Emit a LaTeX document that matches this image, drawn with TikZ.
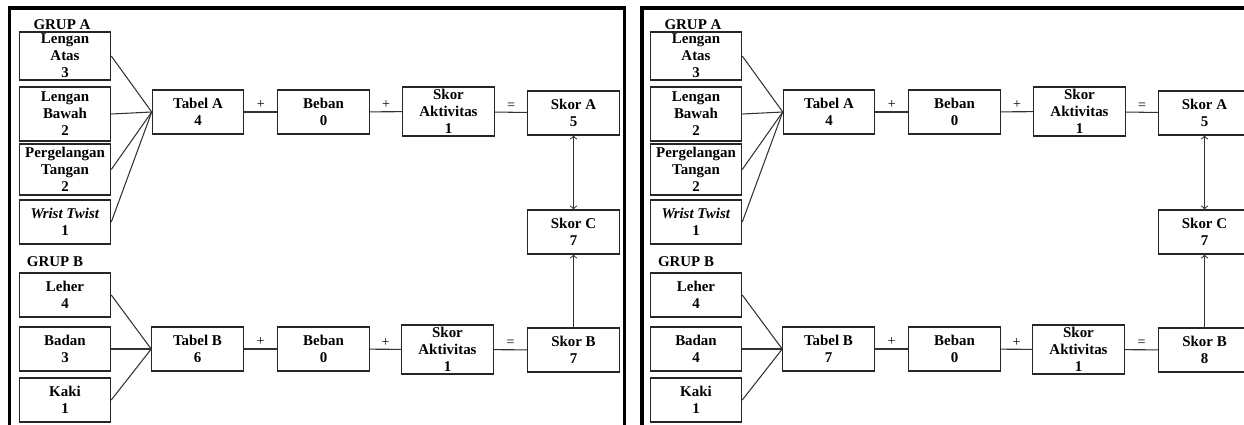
\documentclass[tikz,border=0pt]{standalone}
\usepackage{fontspec}
\setmainfont{Liberation Serif}

\tikzset{
  box/.style={draw=black!85, line width=0.6pt, align=center, inner sep=0pt,
    minimum width=1.83cm, minimum height=0.88cm,
    font=\fontsize{8.5}{9.7}\selectfont\bfseries},
  grup/.style={font=\fontsize{8.5}{9.7}\selectfont\bfseries},
  link/.style={draw=black!80, line width=0.6pt},
  opsign/.style={above, inner sep=1.5pt, font=\fontsize{8}{9}\selectfont},
  frame/.style={line width=1.8pt}
}

% one REBA panel: #1 prefix, #2 shift, #3 Badan, #4 Tabel B, #5 Skor B
\newcommand{\rebapanel}[5]{%
\begin{scope}[shift={(#2,0)}, name prefix=#1-]
% Grup A
\node[grup] (ga) at (62,25) {GRUP A};
\node[box, minimum height=0.96cm] (la) at (65,56) {Lengan\\Atas\\3};
\node[box, minimum height=1.08cm] (lb) at (65,114) {Lengan\\Bawah\\2};
\node[box, minimum height=1.02cm] (pt) at (65,169.5) {Pergelangan\\Tangan\\2};
\node[box] (wt) at (65,222) {\textit{Wrist Twist}\\1};
\node[box] (ta) at (198,112) {Tabel A\\4};
\node[box] (ba) at (323.5,112) {Beban\\0};
\node[box, minimum height=0.98cm] (aa) at (448.5,111.5) {Skor\\Aktivitas\\1};
\node[box] (sa) at (573.5,113) {Skor A\\5};
\node[box] (sc) at (573.5,232) {Skor C\\7};
% Grup B
\node[grup] (gb) at (55,262) {GRUP B};
\node[box] (le) at (65,295) {Leher\\4};
\node[box] (bd) at (65,349) {Badan\\#3};
\node[box] (kk) at (65,400) {Kaki\\1};
\node[box] (tb) at (197.5,349) {Tabel B\\#4};
\node[box] (bb) at (323.5,349) {Beban\\0};
\node[box, minimum height=0.98cm] (ab) at (447.5,349.5) {Skor\\Aktivitas\\1};
\node[box] (sb) at (573.5,350) {Skor B\\#5};
% connectors
\foreach \n in {la,lb,pt,wt} \draw[link] (\n.east) -- (ta.west);
\foreach \n in {le,bd,kk} \draw[link] (\n.east) -- (tb.west);
\draw[link] (ta) -- node[opsign] {+} (ba);
\draw[link] (ba) -- node[opsign] {+} (aa);
\draw[link] (aa) -- node[opsign] {=} (sa);
\draw[link] (tb) -- node[opsign] {+} (bb);
\draw[link] (bb) -- node[opsign] {+} (ab);
\draw[link] (ab) -- node[opsign] {=} (sb);
\draw[link, <->] (sa) -- (sc);
\draw[link, ->] (sb) -- (sc);
\end{scope}}

\begin{document}
\begin{tikzpicture}[x=0.02cm, y=-0.02cm]
\clip (0,0) rectangle (1244,424);

% frames
\draw[frame] (9.5,430) -- (9.5,8) -- (624.5,8) -- (624.5,430);
\draw[frame] (642,430) -- (642,8) -- (1260,8) -- (1260,430);

\rebapanel{p1}{0}{3}{6}{7}
\rebapanel{p2}{631}{4}{7}{8}
\end{tikzpicture}
\end{document}
